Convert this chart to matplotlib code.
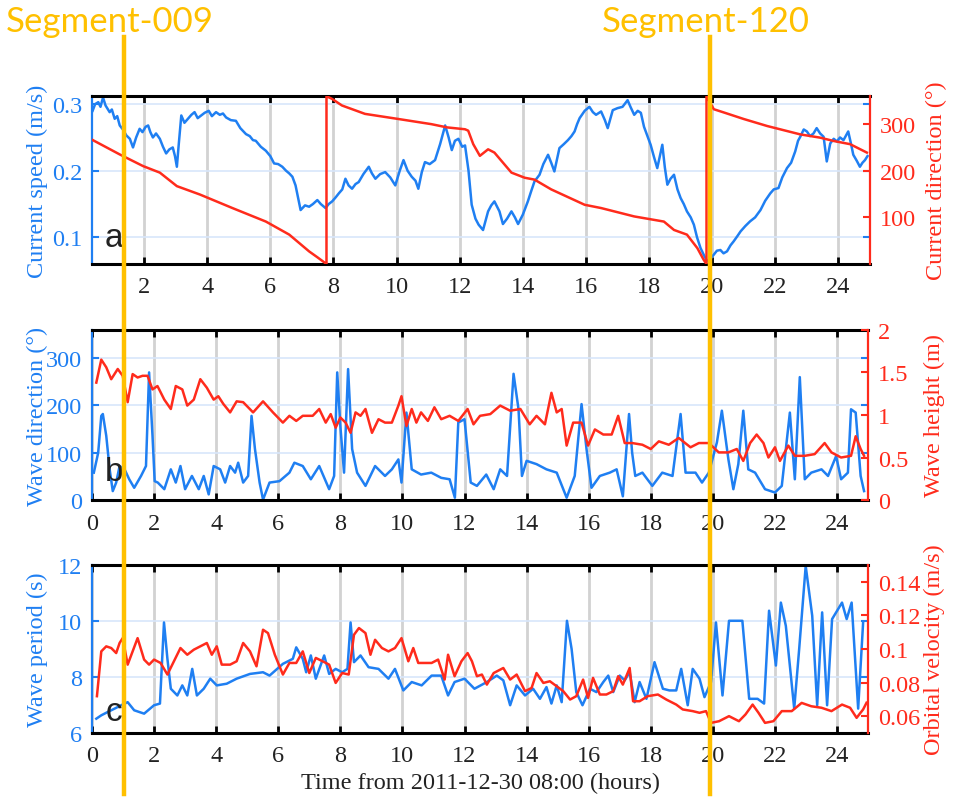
import matplotlib.pyplot as plt
from matplotlib.lines import Line2D
from matplotlib.transforms import blended_transform_factory

blue = '#1f7ff2'
red = '#ff2b1c'
orange = '#ffc000'

# (a) current speed (m/s) and current direction (deg)
speed_t = [0.37, 0.45, 0.55, 0.62, 0.70, 0.78, 0.91, 0.98, 1.07, 1.15, 1.23, 1.33, 1.44, 1.55, 1.65,
           1.75, 1.86, 1.95, 2.05, 2.13, 2.20, 2.28, 2.38, 2.50, 2.60, 2.70, 2.80, 2.91, 2.98, 3.04,
           3.10, 3.18, 3.28, 3.39, 3.50, 3.60, 3.70, 3.81, 3.92, 4.05, 4.15, 4.28, 4.40, 4.50, 4.60,
           4.75, 4.91, 5.05, 5.23, 5.35, 5.45, 5.54, 5.70, 5.86, 6.00, 6.12, 6.25, 6.38, 6.50, 6.60,
           6.70, 6.80, 6.86, 6.96, 7.10, 7.23, 7.35, 7.49, 7.60, 7.75, 7.85, 7.96, 8.07, 8.17, 8.28,
           8.38, 8.48, 8.59, 8.70, 8.80, 8.95, 9.12, 9.22, 9.33, 9.48, 9.64, 9.80, 9.96, 10.10, 10.22,
           10.35, 10.48, 10.60, 10.69, 10.80, 10.90, 11.05, 11.22, 11.38, 11.54, 11.65, 11.75, 11.85,
           11.96, 12.08, 12.17, 12.28, 12.38, 12.50, 12.60, 12.74, 12.90, 13.00, 13.10, 13.26, 13.37,
           13.50, 13.64, 13.75, 13.85, 14.00, 14.16, 14.27, 14.37, 14.53, 14.65, 14.80, 14.90, 15.00,
           15.16, 15.30, 15.43, 15.54, 15.64, 15.72, 15.80, 15.96, 16.11, 16.22, 16.32, 16.48, 16.60,
           16.69, 16.85, 17.00, 17.16, 17.32, 17.42, 17.53, 17.64, 17.74, 17.84, 17.95, 18.05, 18.16,
           18.26, 18.42, 18.50, 18.58, 18.68, 18.79, 18.90, 19.00, 19.10, 19.20, 19.32, 19.42, 19.52,
           19.63, 19.75, 19.84, 19.95, 20.05, 20.15, 20.26, 20.36, 20.47, 20.58, 20.68, 20.80, 20.90,
           21.05, 21.20, 21.36, 21.53, 21.68, 21.84, 21.95, 22.10, 22.22, 22.37, 22.50, 22.63, 22.72,
           22.79, 22.90, 23.00, 23.10, 23.21, 23.31, 23.42, 23.53, 23.63, 23.74, 23.85, 23.95, 24.05,
           24.16, 24.31, 24.40, 24.47, 24.58, 24.68, 24.76, 24.84, 24.92]
speed = [0.290, 0.300, 0.303, 0.296, 0.310, 0.298, 0.288, 0.292, 0.278, 0.282, 0.268, 0.262, 0.253,
         0.248, 0.235, 0.250, 0.263, 0.258, 0.266, 0.268, 0.258, 0.250, 0.256, 0.248, 0.236, 0.226,
         0.232, 0.235, 0.222, 0.206, 0.240, 0.283, 0.272, 0.278, 0.284, 0.288, 0.279, 0.283, 0.287,
         0.290, 0.282, 0.288, 0.284, 0.286, 0.280, 0.276, 0.275, 0.264, 0.255, 0.252, 0.246, 0.245,
         0.236, 0.230, 0.222, 0.211, 0.210, 0.206, 0.200, 0.196, 0.191, 0.178, 0.164, 0.141, 0.148,
         0.146, 0.150, 0.156, 0.150, 0.144, 0.150, 0.154, 0.160, 0.166, 0.172, 0.188, 0.178, 0.173,
         0.180, 0.183, 0.195, 0.206, 0.196, 0.188, 0.195, 0.198, 0.190, 0.178, 0.200, 0.216, 0.200,
         0.191, 0.185, 0.173, 0.198, 0.213, 0.210, 0.216, 0.240, 0.268, 0.250, 0.231, 0.245, 0.248,
         0.236, 0.238, 0.200, 0.149, 0.128, 0.119, 0.111, 0.139, 0.148, 0.154, 0.139, 0.120, 0.128,
         0.139, 0.130, 0.120, 0.134, 0.154, 0.170, 0.184, 0.194, 0.210, 0.224, 0.212, 0.199, 0.234,
         0.240, 0.246, 0.252, 0.259, 0.270, 0.279, 0.290, 0.296, 0.288, 0.284, 0.289, 0.276, 0.264,
         0.291, 0.294, 0.296, 0.306, 0.295, 0.284, 0.290, 0.287, 0.266, 0.252, 0.239, 0.220, 0.204,
         0.239, 0.205, 0.179, 0.188, 0.194, 0.172, 0.159, 0.150, 0.139, 0.130, 0.119, 0.100, 0.084,
         0.072, 0.064, 0.068, 0.074, 0.080, 0.081, 0.076, 0.079, 0.088, 0.094, 0.102, 0.109, 0.117,
         0.124, 0.130, 0.141, 0.155, 0.166, 0.172, 0.174, 0.190, 0.204, 0.212, 0.229, 0.245, 0.251,
         0.262, 0.259, 0.252, 0.256, 0.264, 0.256, 0.251, 0.214, 0.241, 0.248, 0.244, 0.250, 0.246,
         0.259, 0.240, 0.224, 0.215, 0.206, 0.212, 0.216, 0.222]

cdir_t = [0.37, 1.23, 1.97, 2.50, 3.04, 3.77, 4.80, 5.86, 6.60, 7.23, 7.50, 7.78, 7.78, 7.96, 8.27,
          9.00, 10.06, 11.10, 11.60, 12.17, 12.27, 12.43, 12.64, 12.90, 13.10, 13.64, 14.06, 14.37,
          14.90, 15.96, 16.48, 17.53, 18.47, 18.79, 19.20, 19.53, 19.73, 19.82, 19.82, 20.05, 20.37,
          21.00, 21.74, 22.79, 23.42, 23.84, 24.37, 24.90]
cdir = [266, 235, 210, 196, 167, 149, 120, 91, 63, 27, 14, 0, 360, 354, 340,
        322, 311, 300, 293, 289, 286, 257, 232, 246, 239, 196, 185, 181,
        160, 127, 120, 102, 91, 73, 63, 34, 9, 0, 360, 332, 325,
        311, 296, 278, 271, 264, 257, 239]

# (b) wave direction (deg) and wave height (m)
wdir_t = [0.06, 0.20, 0.30, 0.35, 0.46, 0.57, 0.67, 0.78, 0.89, 1.05, 1.20, 1.36, 1.58, 1.74, 1.84,
          1.95, 2.02, 2.12, 2.33, 2.54, 2.70, 2.85, 3.00, 3.22, 3.44, 3.60, 3.76, 3.92, 4.13, 4.29,
          4.45, 4.61, 4.71, 4.87, 5.03, 5.14, 5.25, 5.40, 5.51, 5.72, 6.04, 6.36, 6.52, 6.79, 7.05,
          7.32, 7.64, 7.80, 7.90, 8.00, 8.12, 8.25, 8.38, 8.54, 8.81, 9.12, 9.44, 9.66, 9.87, 9.97,
          10.13, 10.30, 10.60, 10.93, 11.25, 11.52, 11.69, 11.80, 12.00, 12.20, 12.40, 12.70, 12.94,
          13.15, 13.37, 13.58, 13.74, 13.85, 14.00, 14.32, 14.64, 14.97, 15.29, 15.55, 15.77, 15.93,
          16.09, 16.36, 16.68, 16.90, 17.10, 17.30, 17.40, 17.50, 17.73, 18.05, 18.37, 18.70, 18.96,
          19.12, 19.44, 19.65, 19.87, 20.13, 20.29, 20.50, 20.66, 20.82, 20.98, 21.14, 21.36, 21.68,
          22.00, 22.22, 22.48, 22.64, 22.80, 22.96, 23.17, 23.50, 23.71, 23.97, 24.13, 24.35, 24.45,
          24.60, 24.76, 24.87]
wdir = [58, 100, 178, 182, 136, 65, 19, 37, 72, 65, 44, 26, 51, 72, 270,
        136, 40, 37, 23, 65, 37, 72, 23, 51, 23, 51, 12, 72, 65, 37,
        72, 58, 79, 37, 51, 178, 108, 37, 1, 37, 40, 58, 79, 72, 44,
        72, 23, 51, 270, 157, 58, 277, 108, 58, 30, 72, 51, 65, 86, 37,
        185, 65, 54, 58, 47, 44, 5, 164, 171, 37, 30, 54, 23,
        65, 51, 267, 192, 51, 83, 76, 65, 58, 5, 51, 203, 108,
        26, 51, 58, 65, 8, 182, 100, 51, 58, 30, 58, 51, 182,
        58, 58, 37, 58, 122, 189, 86, 23, 76, 189, 65, 58, 23,
        16, 30, 185, 44, 260, 44, 58, 65, 51, 93, 44, 58, 192,
        185, 51, 19]

hs_t = [0.14, 0.30, 0.46, 0.62, 0.83, 0.99, 1.15, 1.31, 1.47, 1.63, 1.79, 1.95, 2.11, 2.33, 2.54,
        2.70, 2.91, 3.07, 3.28, 3.49, 3.70, 3.92, 4.07, 4.23, 4.45, 4.66, 4.87, 5.19, 5.51, 5.83,
        6.15, 6.36, 6.58, 6.79, 7.11, 7.32, 7.53, 7.69, 7.85, 8.00, 8.17, 8.33, 8.49, 8.65, 8.81,
        9.02, 9.23, 9.44, 9.66, 9.87, 9.97, 10.13, 10.30, 10.45, 10.60, 10.82, 11.03, 11.25, 11.52,
        11.80, 12.10, 12.29, 12.50, 12.83, 13.15, 13.47, 13.80, 14.10, 14.32, 14.59, 14.80, 14.97,
        15.13, 15.29, 15.50, 15.77, 15.98, 16.20, 16.47, 16.74, 16.95, 17.16, 17.40, 17.73, 18.00,
        18.26, 18.58, 18.90, 19.28, 19.55, 19.87, 20.19, 20.50, 20.77, 20.98, 21.20, 21.41, 21.63,
        21.79, 22.00, 22.16, 22.43, 22.64, 22.96, 23.28, 23.60, 23.82, 24.13, 24.45, 24.60, 24.76,
        24.87]
hs = [1.38, 1.65, 1.56, 1.42, 1.54, 1.46, 1.15, 1.48, 1.44, 1.46, 1.46, 1.30, 1.34, 1.18, 1.07,
      1.34, 1.30, 1.11, 1.18, 1.42, 1.32, 1.18, 1.22, 1.13, 1.03, 1.16, 1.15, 1.03, 1.16, 1.03,
      0.91, 0.99, 0.93, 0.99, 0.99, 1.07, 0.91, 1.01, 0.85, 0.97, 0.91, 0.79, 1.03, 0.99, 1.07,
      0.79, 0.95, 0.91, 0.91, 1.11, 1.22, 0.87, 1.07, 0.91, 1.03, 0.93, 1.09, 0.95, 0.99,
      0.93, 1.07, 0.89, 0.99, 1.01, 1.11, 1.05, 1.07, 0.89, 0.99, 0.89, 1.26, 1.03,
      1.07, 0.64, 0.91, 0.91, 0.64, 0.83, 0.77, 0.77, 0.99, 0.67, 0.67, 0.65, 0.60,
      0.69, 0.65, 0.73, 0.62, 0.67, 0.67, 0.56, 0.56, 0.60, 0.46, 0.67, 0.77, 0.67,
      0.50, 0.62, 0.46, 0.64, 0.52, 0.52, 0.54, 0.67, 0.56, 0.50, 0.52, 0.75, 0.60,
      0.52]

# (c) wave period (s) and orbital velocity (m/s)
tp_t = [0.14, 0.30, 0.51, 0.73, 0.94, 1.15, 1.36, 1.68, 2.00, 2.19, 2.32, 2.43, 2.54, 2.75, 2.91,
        3.07, 3.23, 3.38, 3.60, 3.81, 4.02, 4.34, 4.66, 5.09, 5.51, 5.72, 6.15, 6.47, 6.58, 6.79,
        6.90, 7.05, 7.21, 7.48, 7.64, 7.85, 8.06, 8.23, 8.33, 8.44, 8.65, 8.91, 9.23, 9.55, 9.76,
        10.03, 10.30, 10.62, 10.94, 11.25, 11.47, 11.68, 12.00, 12.32, 12.72, 13.04, 13.25, 13.47,
        13.68, 13.95, 14.21, 14.43, 14.64, 14.80, 14.97, 15.13, 15.30, 15.45, 15.60, 15.80, 16.04,
        16.25, 16.47, 16.63, 16.79, 17.00, 17.16, 17.32, 17.48, 17.64, 17.86, 18.12, 18.39, 18.60,
        18.82, 18.98, 19.19, 19.35, 19.57, 19.73, 19.94, 20.10, 20.31, 20.52, 20.95, 21.17, 21.44,
        21.65, 21.81, 22.03, 22.19, 22.35, 22.62, 22.78, 22.99, 23.20, 23.36, 23.52, 23.68, 23.84,
        24.16, 24.31, 24.47, 24.68, 24.84]
tp = [6.51, 6.63, 6.75, 6.87, 6.99, 7.10, 6.81, 6.69, 6.99, 7.05, 9.95, 8.65, 7.58, 7.34, 7.70,
      7.34, 8.29, 7.34, 7.58, 7.94, 7.70, 7.76, 7.94, 8.11, 8.17, 8.05, 8.47, 8.65, 9.06, 8.65,
      8.17, 8.77, 7.94, 8.77, 8.11, 8.29, 8.17, 8.29, 9.95, 8.53, 8.77, 8.35, 8.29, 7.94, 8.29,
      7.52, 7.82, 7.70, 8.05, 8.05, 7.34, 7.82, 7.94, 7.58, 7.82, 8.05, 7.88, 6.99,
      7.70, 7.34, 7.58, 7.22, 7.64, 7.05, 7.70, 7.10, 10.01, 9.00, 7.46, 6.99, 7.58,
      7.46, 7.82, 8.05, 7.46, 8.05, 7.88, 8.17, 7.10, 7.82, 7.22, 8.53, 7.58, 7.52,
      7.52, 8.29, 6.99, 8.29, 7.94, 7.28, 7.82, 9.95, 7.34, 10.01, 10.01, 7.22, 7.22,
      7.05, 10.37, 8.41, 10.66, 9.83, 6.87, 9.00, 11.97, 10.19, 6.99, 10.31, 6.99, 10.07,
      10.66, 10.07, 10.66, 6.87, 9.95]

ub_t = [0.16, 0.30, 0.46, 0.62, 0.78, 0.89, 0.99, 1.15, 1.31, 1.47, 1.68, 1.84, 2.00, 2.21, 2.43,
        2.64, 2.85, 3.07, 3.28, 3.49, 3.70, 3.86, 4.02, 4.18, 4.45, 4.66, 4.87, 5.09, 5.30, 5.51,
        5.67, 5.89, 6.15, 6.36, 6.58, 6.79, 7.00, 7.21, 7.43, 7.64, 7.85, 8.06, 8.27, 8.44, 8.60,
        8.81, 8.97, 9.12, 9.34, 9.55, 9.76, 9.97, 10.19, 10.35, 10.51, 10.72, 10.94, 11.15, 11.36,
        11.47, 11.68, 11.90, 12.10, 12.24, 12.40, 12.56, 12.72, 12.94, 13.25, 13.47, 13.68, 13.95,
        14.16, 14.32, 14.54, 14.75, 14.97, 15.18, 15.40, 15.60, 15.82, 15.98, 16.14, 16.36, 16.57,
        16.79, 16.95, 17.10, 17.32, 17.43, 17.64, 17.90, 18.23, 18.50, 18.82, 19.03, 19.35, 19.57,
        19.78, 19.94, 20.20, 20.52, 20.84, 21.05, 21.28, 21.47, 21.68, 21.95, 22.22, 22.54, 22.86,
        23.17, 23.50, 23.82, 24.16, 24.42, 24.63, 24.84, 24.95]
ub = [0.0719, 0.0986, 0.1016, 0.1006, 0.0976, 0.1036, 0.1065, 0.0907, 0.0986, 0.1065, 0.0937,
      0.0907, 0.0937, 0.0917, 0.0848, 0.0927, 0.1006, 0.0966, 0.0996, 0.1016, 0.1036, 0.0966,
      0.1016, 0.0907, 0.0907, 0.0927, 0.1036, 0.0986, 0.0897, 0.1115, 0.1095, 0.0966, 0.0848,
      0.0917, 0.0917, 0.0986, 0.0857, 0.0947, 0.0927, 0.0907, 0.0798, 0.0857, 0.0848, 0.1085,
      0.1125, 0.1095, 0.0966, 0.1055, 0.1006, 0.0986, 0.1006, 0.1065, 0.0927, 0.1006, 0.0917,
      0.0917, 0.0917, 0.0937, 0.0818, 0.0966, 0.0838, 0.0927, 0.0976, 0.0927, 0.0838, 0.0848,
      0.0788, 0.0857, 0.0887, 0.0818, 0.0848, 0.0749, 0.0768, 0.0857, 0.0798, 0.0808, 0.0778,
      0.0749, 0.0699, 0.0719, 0.0818, 0.0709, 0.0828, 0.0729, 0.0729, 0.0749, 0.0838, 0.0788,
      0.0887, 0.0689, 0.0689, 0.0719, 0.0729, 0.0699, 0.0669, 0.0640, 0.0630, 0.0620, 0.0630,
      0.0560, 0.0570, 0.0600, 0.0570, 0.0610, 0.0669, 0.0620, 0.0560, 0.0570, 0.0630, 0.0630,
      0.0679, 0.0659, 0.0650, 0.0630, 0.0669, 0.0650, 0.0590, 0.0640, 0.0680]

segment_hours = [1.03, 19.9]
segment_labels = ['Segment-009', 'Segment-120']

plt.rcParams['font.family'] = 'Liberation Serif'
fig = plt.figure(figsize=(9.57, 8.03), dpi=100)
fs = 17.5


def make_panel(rect, xlim, xticks, lylim, lyticks, lylabel, rylim, ryticks, rylabel, letter, letter_y):
    ax = fig.add_axes(rect)
    ax2 = ax.twinx()
    ax.set_xlim(xlim)
    ax.set_xticks(xticks)
    ax.set_ylim(lylim)
    ax.set_yticks(lyticks)
    ax2.set_ylim(rylim)
    ax2.set_yticks(ryticks)
    ax.set_axisbelow(True)
    ax.grid(axis='x', color='#d2d2d2', lw=2)
    ax.grid(axis='y', color='#d8e6fb', lw=1.2)

    ax.spines['top'].set_linewidth(2.2)
    ax.spines['bottom'].set_linewidth(2.2)
    ax.spines['left'].set_color(blue)
    ax.spines['left'].set_linewidth(1.6)
    ax.spines['right'].set_visible(False)
    for s in ['top', 'bottom', 'left']:
        ax2.spines[s].set_visible(False)
    ax2.spines['right'].set_color(red)
    ax2.spines['right'].set_linewidth(1.6)

    ax.tick_params(axis='x', direction='in', top=True, bottom=True, length=5, width=2,
                   labelsize=fs, pad=9, labelcolor='#222222')
    ax.yaxis.set_ticks_position('both')
    ax.tick_params(axis='y', direction='in', colors=blue, length=5, width=1.5, labelsize=fs, pad=7)
    ax2.tick_params(axis='y', direction='in', colors=red, length=5, width=1.5, labelsize=fs, pad=7)

    ax.set_ylabel(lylabel, color=blue, fontsize=fs)
    ax.yaxis.set_label_coords(-0.057, 0.5)
    ax2.set_ylabel(rylabel, color=red, fontsize=fs)
    ax2.yaxis.set_label_coords(1.072, 0.5)
    ax.text(0.028, letter_y, letter, transform=ax.transAxes, fontsize=24, family='Liberation Sans',
            ha='center', va='center', color='#222222')
    return ax, ax2


ax_a, ax_a2 = make_panel([0.0961, 0.670, 0.813, 0.209], (0.35, 25), range(2, 25, 2),
                         (0.06, 0.312), [0.1, 0.2, 0.3], 'Current speed (m/s)',
                         (0, 360), [100, 200, 300], 'Current direction (°)', 'a', 0.155)
ax_a.plot(speed_t, speed, color=blue, lw=1.8)
ax_a2.plot(cdir_t, cdir, color=red, lw=1.8)

ax_b, ax_b2 = make_panel([0.0961, 0.376, 0.811, 0.212], (0, 25), range(0, 25, 2),
                         (0, 360), [0, 100, 200, 300], 'Wave direction (°)',
                         (0, 2), [0, 0.5, 1, 1.5, 2], 'Wave height (m)', 'b', 0.17)
ax_b2.set_yticklabels(['0', '0.5', '1', '1.5', '2'])
ax_b.plot(wdir_t, wdir, color=blue, lw=1.8)
ax_b2.plot(hs_t, hs, color=red, lw=1.8)

ax_c, ax_c2 = make_panel([0.0961, 0.086, 0.811, 0.209], (0, 25), range(0, 25, 2),
                         (6, 12), [6, 8, 10, 12], 'Wave period (s)',
                         (0.05, 0.15), [0.06, 0.08, 0.10, 0.12, 0.14], 'Orbital velocity (m/s)', 'c', 0.13)
ax_c2.set_yticklabels(['0.06', '0.08', '0.1', '0.12', '0.14'])
ax_c.plot(tp_t, tp, color=blue, lw=1.8)
ax_c2.plot(ub_t, ub, color=red, lw=1.8)
ax_c.set_xlabel('Time from 2011-12-30 08:00 (hours)', fontsize=fs, labelpad=4, color='#222222')

# orange segment markers spanning the whole figure
trans = blended_transform_factory(ax_c.transData, fig.transFigure)
label_x = [0.115, 0.738]
for h, lab, lx in zip(segment_hours, segment_labels, label_x):
    fig.add_artist(Line2D([h, h], [0.010, 0.953], transform=trans, color=orange, lw=3.2, zorder=20))
    fig.text(lx, 0.972, lab, color=orange, fontsize=25, family='Lato', ha='center', va='center')

fig.savefig('out.png', dpi=100)
